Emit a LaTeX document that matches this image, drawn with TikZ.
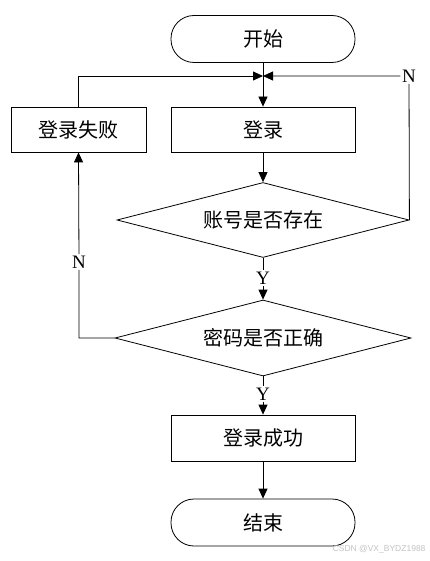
\documentclass[tikz,border=0pt]{standalone}
\usepackage{fontspec}
\setmainfont{Liberation Serif}
\newfontfamily\cjk{Noto Sans CJK SC}
\usepackage{tikz}
\usetikzlibrary{arrows.meta, shapes.geometric, positioning}
\definecolor{FlowLine}{RGB}{0,0,0}
\definecolor{MarkGray}{RGB}{195,195,195}

\begin{document}
\begin{tikzpicture}[x=1pt,y=-1pt,
    cjktext/.style={font=\cjk\fontsize{20}{20}\selectfont},
    terminal/.style={draw=FlowLine,line width=0.8pt,rounded corners=23pt,
      minimum width=184pt,minimum height=47pt,cjktext},
    procbox/.style={draw=FlowLine,line width=0.8pt,minimum height=45pt,cjktext},
    decision/.style={draw=FlowLine,line width=0.8pt,diamond,aspect=3.8,
      inner sep=0pt,cjktext},
    yn/.style={font=\fontsize{19}{19}\selectfont,inner sep=1.5pt},
    flow/.style={draw=FlowLine,line width=0.8pt,-{Triangle[length=10pt,width=9pt]}}]
  \useasboundingbox (0,0) rectangle (429,561);
  % Main column
  \node[terminal] (start) at (263,39) {开始};
  \node[procbox,minimum width=184pt] (login) at (263,129.5) {登录};
  \node[procbox,minimum width=135pt] (fail) at (78.5,129.5) {登录失败};
  \node[decision,minimum width=292pt,minimum height=75pt] (chkuser) at (263,220) {账号是否存在};
  \node[decision,minimum width=296pt,minimum height=76pt] (chkpass) at (263,338) {密码是否正确};
  \node[procbox,minimum width=184pt,minimum height=46pt] (ok) at (263,438) {登录成功};
  \node[terminal] (stop) at (263,522.5) {结束};
  \coordinate (join) at (263,76);
  % Branch labels
  \node[yn] (noUser) at (409,76) {N};
  \node[yn] (noPass) at (79,262) {N};
  \node[yn] (yesUser) at (263,278) {Y};
  \node[yn] (yesPass) at (263,394) {Y};
  % Connectors
  \draw[flow] (start) -- (login);
  \draw[flow] (fail.north) |- (join);
  \draw[flow] (chkuser.east) -- (noUser) -- (join);
  \draw[flow] (login) -- (chkuser);
  \draw[flow] (chkuser.south) -- (yesUser) -- (chkpass.north);
  \draw[flow] (chkpass.west) -| (noPass) -- (fail.south);
  \draw[flow] (chkpass.south) -- (yesPass) -- (ok.north);
  \draw[flow] (ok) -- (stop);
  % Watermark
  \node[anchor=east,text=MarkGray,font=\fontspec{Liberation Sans}\fontsize{8.5}{8.5}\selectfont] (mark) at (429,549) {CSDN @VX\_BYDZ1988};
\end{tikzpicture}
\end{document}
